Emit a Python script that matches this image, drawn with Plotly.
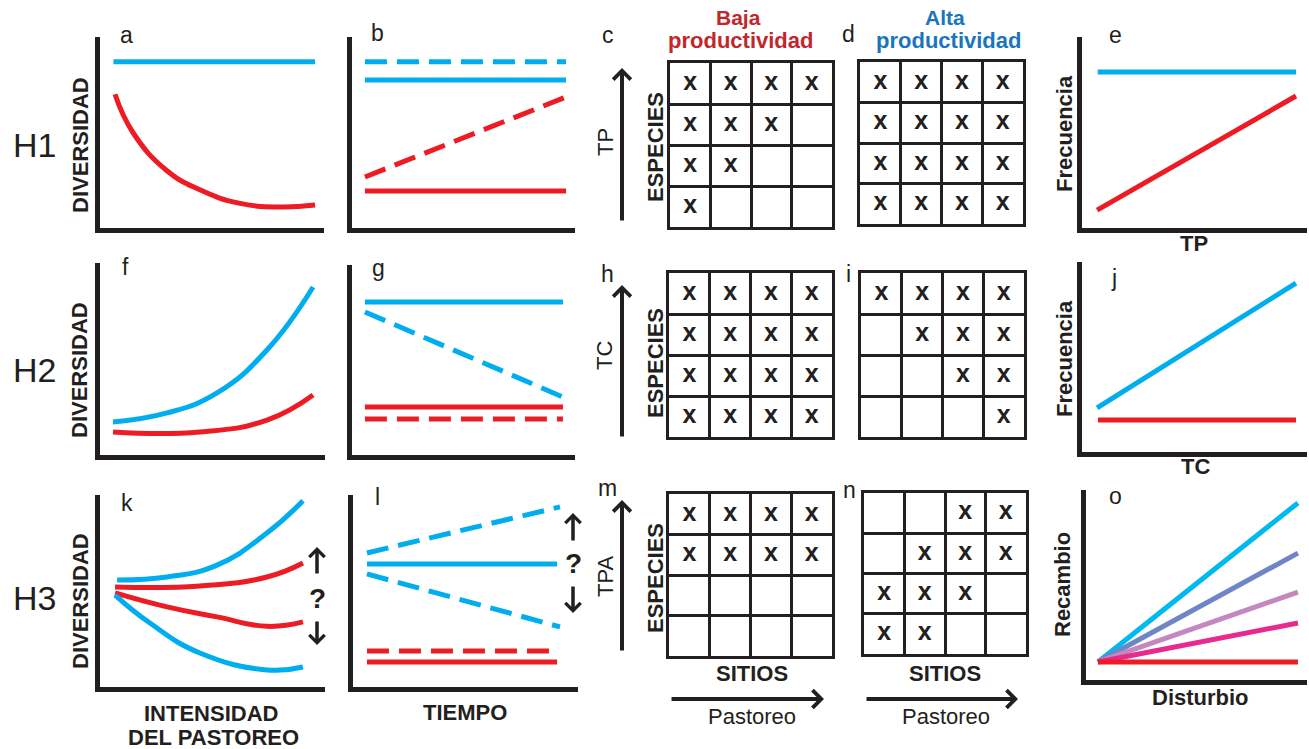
import plotly.graph_objects as go

W, H = 1309, 749
BLACK = '#231f20'
BLUE = '#00aeef'
RED = '#ed1c24'
FONT = 'Liberation Sans, Arial, sans-serif'

# ---------------- data ----------------
# a (H1: diversidad vs intensidad)
a_x = [6, 96]
a_blue_y = [87, 87]
a_red_x = [6.7, 14.7, 29.9, 44.6, 62, 80, 96.0]
a_red_y = [70, 50, 30, 20, 13, 11, 12]
# b (H1: diversidad vs tiempo)
b_x = [5.8, 96]
b_blue_dash_y = [87, 87]
b_blue_y = [77.5, 77.5]
b_red_dash_y = [26.7, 68.6]
b_red_y = [19.4, 19.4]
# e (frecuencia vs TP)
e_x = [7, 95.1]
e_blue_y = [81.7, 81.7]
e_red_x = [6.7, 95.1]
e_red_y = [9.4, 69.1]
# f
f_blue_x = [5.8, 29.8, 52, 74.2, 94.7]
f_blue_y = [17.2, 21.9, 32.3, 54.7, 87.5]
f_red_x = [5.8, 44.4, 74.2, 94.7]
f_red_y = [12, 12, 18.2, 31.3]
# g
g_x = [5.8, 94.6]
g_blue_y = [80.5, 80.5]
g_blue_dash_y = [75.3, 30.5]
g_red_y = [25.3, 25.3]
g_red_dash_y = [18.9, 18.9]
# j
j_blue_x = [6.7, 95.1]
j_blue_y = [23.2, 88.9]
j_red_x = [7.1, 95.1]
j_red_y = [16.8, 16.8]
# k
k_blue_up_x = [7.6, 29.8, 52, 74.2, 90.2]
k_blue_up_y = [55.7, 57.3, 63.5, 80.2, 97]
k_red_up_x = [6.7, 44.4, 74.2, 90.2]
k_red_up_y = [52.1, 52.6, 57.3, 64.6]
k_red_lo_x = [6.7, 29.8, 52, 74.2, 90.2]
k_red_lo_y = [49, 41.7, 36.5, 31.6, 33.9]
k_blue_lo_x = [6.7, 22.2, 44.4, 74.2, 90.2]
k_blue_lo_y = [47.9, 33.3, 17.7, 8.9, 10.4]
# l
l_x = [6.2, 90.7]
l_dash_x = [6.2, 92]
l_blue_y = [64.1, 64.1]
l_blue_up_y = [69.8, 93.8]
l_blue_lo_y = [58.9, 31.3]
l_red_dash_y = [18.8, 18.8]
l_red_y = [13, 13]
# o (recambio vs disturbio)
o_x = [5.4, 95.9]
o_start = 9.5
o_ends = [93.2, 66.8, 46.3, 30.0, 9.5]
o_colors = ['#00b9f1', '#6f85c5', '#c487c0', '#e8298d', '#ed1c24']

# presence matrices (rows: top -> bottom, cols: left -> right)
grid_c = [[1, 1, 1, 1], [1, 1, 1, 0], [1, 1, 0, 0], [1, 0, 0, 0]]
grid_d = [[1, 1, 1, 1], [1, 1, 1, 1], [1, 1, 1, 1], [1, 1, 1, 1]]
grid_h = [[1, 1, 1, 1], [1, 1, 1, 1], [1, 1, 1, 1], [1, 1, 1, 1]]
grid_i = [[1, 1, 1, 1], [0, 1, 1, 1], [0, 0, 1, 1], [0, 0, 0, 1]]
grid_m = [[1, 1, 1, 1], [1, 1, 1, 1], [0, 0, 0, 0], [0, 0, 0, 0]]
grid_n = [[0, 0, 1, 1], [0, 1, 1, 1], [1, 1, 1, 0], [1, 1, 0, 0]]

# ---------------- figure ----------------
fig = go.Figure()
layout = {}
counter = [0]


def px_x(x):
    return x / W


def px_y(y):
    return 1 - y / H


def new_axes(box, kind):
    counter[0] += 1
    i = counter[0]
    l, r, t, b = box
    sx = '' if i == 1 else str(i)
    if kind == 'line':
        common = dict(range=[0, 100], showline=True, linecolor=BLACK, linewidth=5,
                      showticklabels=False, ticks='', showgrid=False, zeroline=False,
                      fixedrange=True)
    else:
        common = dict(range=[0, 4], tick0=0, dtick=1, showgrid=True, gridcolor=BLACK,
                      gridwidth=3, showline=True, mirror=True, linewidth=3,
                      linecolor=BLACK, showticklabels=False, ticks='', zeroline=False,
                      fixedrange=True)
    layout['xaxis' + sx] = dict(domain=[px_x(l), px_x(r)], anchor='y' + sx, **common)
    layout['yaxis' + sx] = dict(domain=[px_y(b), px_y(t)], anchor='x' + sx, **common)
    return 'x' + sx, 'y' + sx


def line(ax, x, y, color, dash=None, width=5):
    fig.add_trace(go.Scatter(x=x, y=y, mode='lines', xaxis=ax[0], yaxis=ax[1],
                             line=dict(color=color, width=width, dash=dash, shape='spline',
                                       smoothing=1.3),
                             hoverinfo='skip', showlegend=False))


DASH = '22px,10px'

ax = new_axes((100, 324, 37, 228), 'line')
line(ax, a_x, a_blue_y, BLUE)
line(ax, a_red_x, a_red_y, RED)

ax = new_axes((352, 575, 37, 228), 'line')
line(ax, b_x, b_blue_dash_y, BLUE, DASH)
line(ax, b_x, b_blue_y, BLUE)
line(ax, b_x, b_red_dash_y, RED, DASH)
line(ax, b_x, b_red_y, RED)

ax = new_axes((1082, 1307, 37, 228), 'line')
line(ax, e_x, e_blue_y, BLUE)
line(ax, e_red_x, e_red_y, RED)

ax = new_axes((100, 325, 263, 455), 'line')
line(ax, f_blue_x, f_blue_y, BLUE)
line(ax, f_red_x, f_red_y, RED)

ax = new_axes((352, 575, 265, 455), 'line')
line(ax, g_x, g_blue_y, BLUE)
line(ax, g_x, g_blue_dash_y, BLUE, DASH)
line(ax, g_x, g_red_y, RED)
line(ax, g_x, g_red_dash_y, RED, DASH)

ax = new_axes((1082, 1307, 262, 452), 'line')
line(ax, j_blue_x, j_blue_y, BLUE)
line(ax, j_red_x, j_red_y, RED)

ax = new_axes((100, 325, 495, 687), 'line')
line(ax, k_blue_up_x, k_blue_up_y, BLUE)
line(ax, k_red_up_x, k_red_up_y, RED)
line(ax, k_red_lo_x, k_red_lo_y, RED)
line(ax, k_blue_lo_x, k_blue_lo_y, BLUE)

ax = new_axes((353, 578, 495, 687), 'line')
line(ax, l_dash_x, l_blue_up_y, BLUE, DASH)
line(ax, l_x, l_blue_y, BLUE)
line(ax, l_dash_x, l_blue_lo_y, BLUE, DASH)
line(ax, l_x, l_red_dash_y, RED, DASH)
line(ax, l_x, l_red_y, RED)

ax = new_axes((1086, 1307, 490, 680), 'line')
for end, col in zip(o_ends, o_colors):
    line(ax, o_x, [o_start, end], col)


def grid(box, mat):
    ax = new_axes(box, 'grid')
    xs, ys = [], []
    for r, row in enumerate(mat):
        for c, v in enumerate(row):
            if v:
                xs.append(c + 0.5)
                ys.append(len(mat) - r - 0.5)
    fig.add_trace(go.Scatter(x=xs, y=ys, mode='text', text=['<b>x</b>'] * len(xs),
                             textfont=dict(family=FONT, size=25, color=BLACK),
                             xaxis=ax[0], yaxis=ax[1], hoverinfo='skip', showlegend=False))


grid((670, 832, 63, 227), grid_c)
grid((860, 1023, 62, 224), grid_d)
grid((669, 832, 273, 437), grid_h)
grid((861, 1024, 273, 437), grid_i)
grid((669, 832, 494, 656), grid_m)
grid((864, 1026, 493, 654), grid_n)

# ---------------- text & arrows ----------------
ann = []


def txt(x, y, s, size=22, bold=False, color=BLACK, angle=0):
    ann.append(dict(x=px_x(x), y=px_y(y), xref='paper', yref='paper', showarrow=False,
                    text=('<b>%s</b>' % s) if bold else s, textangle=angle,
                    xanchor='center', yanchor='middle',
                    font=dict(family=FONT, size=size, color=color)))


def arrow(hx, hy, dx, dy, width=3.5):
    ann.append(dict(x=px_x(hx), y=px_y(hy), xref='paper', yref='paper', ax=dx, ay=dy,
                    axref='pixel', ayref='pixel', text='', showarrow=True,
                    arrowhead=4, arrowsize=0.85, arrowwidth=width, arrowcolor=BLACK,
                    standoff=0, startstandoff=0))


for lab, y in [('H1', 145), ('H2', 370), ('H3', 598)]:
    txt(34, y, lab, size=34)
for y in [145, 370, 601]:
    txt(80, y, 'DIVERSIDAD', bold=True, angle=-90)

letters = [('a', 126, 35), ('b', 377, 33), ('c', 608, 35), ('d', 848, 34), ('e', 1115, 35),
           ('f', 125, 267), ('g', 378, 268), ('h', 607, 274), ('i', 848, 274), ('j', 1114, 278),
           ('k', 127, 503), ('l', 377, 497), ('m', 607, 488), ('n', 849, 490), ('o', 1115, 496)]
for s, x, y in letters:
    txt(x, y, s, size=23)

txt(738, 18, 'Baja', size=21, bold=True, color='#c1272d')
txt(740, 41, 'productividad', bold=True, color='#c1272d')
txt(945, 18, 'Alta', size=21, bold=True, color='#1b75bc')
txt(948, 41, 'productividad', bold=True, color='#1b75bc')

for s, y in [('TP', 142), ('TC', 356), ('TPA', 577)]:
    txt(605, y, s, angle=-90)
for y in [147, 363, 578]:
    txt(655, y, 'ESPECIES', bold=True, angle=-90)
for y in [134, 359]:
    txt(1064, y, 'Frecuencia', bold=True, angle=-90)
txt(1194, 243, 'TP', bold=True)
txt(1195, 466, 'TC', bold=True)
txt(1062, 585, 'Recambio', bold=True, angle=-90)
txt(1200, 697, 'Disturbio', bold=True)
txt(211, 713, 'INTENSIDAD', bold=True)
txt(213, 737, 'DEL PASTOREO', bold=True)
txt(465, 712, 'TIEMPO', bold=True)
txt(752, 673, 'SITIOS', bold=True)
txt(945, 673, 'SITIOS', bold=True)
txt(752, 716, 'Pastoreo')
txt(946, 716, 'Pastoreo')
txt(317, 598, '?', size=28, bold=True)
txt(573, 563, '?', size=28, bold=True)

arrow(622, 68, 0, 154, 4)
arrow(622, 285, 0, 153, 4)
arrow(622, 500, 0, 152, 4)
arrow(824, 699, -154, 0, 4)
arrow(1018, 699, -153, 0, 4)
arrow(317, 547, 0, 28)
arrow(317, 645, 0, -25)
arrow(573, 513, 0, 29)
arrow(573, 613, 0, -28)

fig.update_layout(**layout)
fig.update_layout(width=W, height=H, margin=dict(l=0, r=0, t=0, b=0),
                  paper_bgcolor='white', plot_bgcolor='white', showlegend=False,
                  annotations=ann)

fig.write_html('out.html')
